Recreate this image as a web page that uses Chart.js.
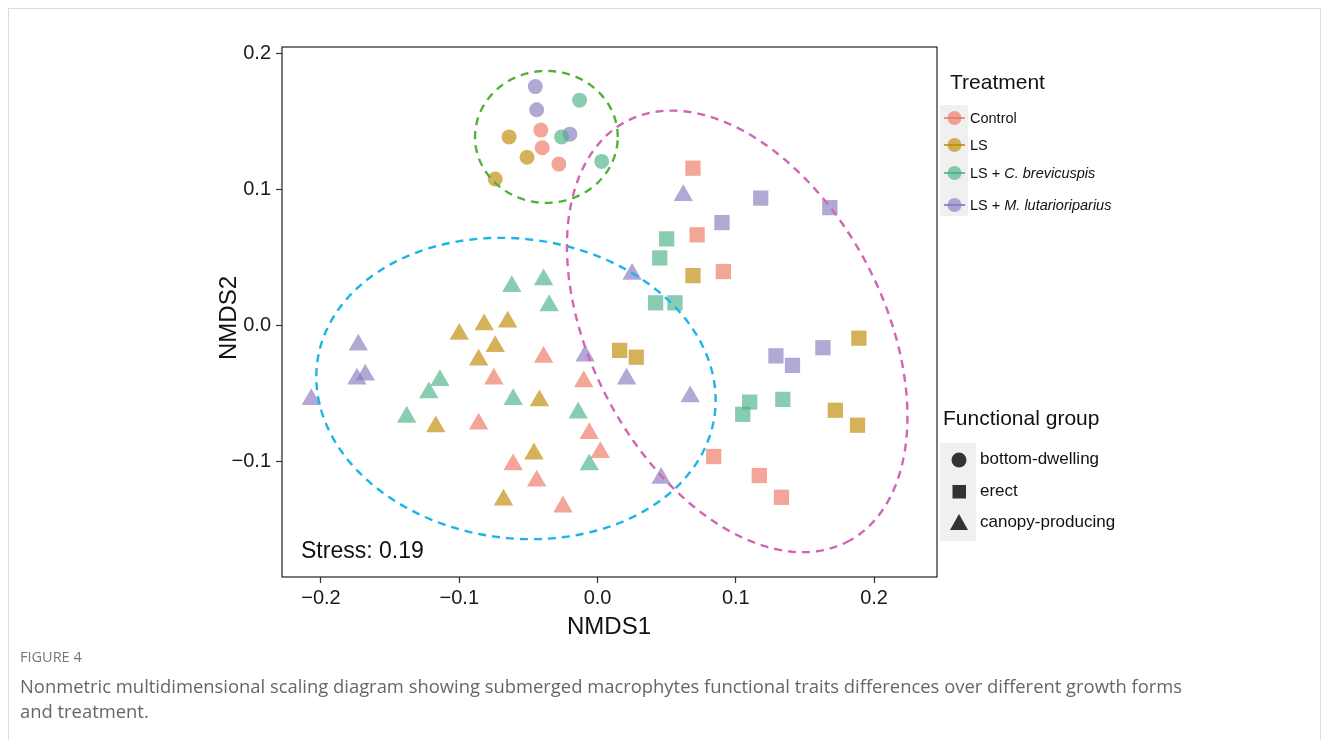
<!DOCTYPE html>
<html>
<head>
<meta charset="utf-8">
<script src="https://cdn.jsdelivr.net/npm/chart.js@4.4.1/dist/chart.umd.min.js"></script>
<style>
  body { margin: 0; background: #fff; width: 1328px; height: 740px; overflow: hidden; position: relative;
         font-family: "Liberation Sans", Arial, sans-serif; color: #111; }
  #frame { position: absolute; left: 8px; top: 8px; width: 1311px; height: 760px; border: 1px solid #dcdcdc; }
  #plot { position: absolute; left: 0; top: 0; }
  #keys { position: absolute; left: 0; top: 0; pointer-events: none; }
  .t { position: absolute; white-space: nowrap; }
  .cap { font-family: "Open Sans", sans-serif; color: #666; }
</style>
</head>
<body>
<div id="frame"></div>
<canvas id="plot" width="1328" height="740"></canvas>

<svg id="keys" width="1328" height="740">
  <rect x="940" y="105" width="28" height="111" fill="#f0f0f0"/>
  <line x1="944" y1="118" x2="965" y2="118" stroke="#ec7460" stroke-width="1.5"/>
  <circle cx="954.5" cy="118" r="7" fill="rgba(236,116,96,0.65)"/>
  <line x1="944" y1="145" x2="965" y2="145" stroke="#be8800" stroke-width="1.5"/>
  <circle cx="954.5" cy="145" r="7" fill="rgba(190,136,0,0.65)"/>
  <line x1="944" y1="173" x2="965" y2="173" stroke="#2fae80" stroke-width="1.5"/>
  <circle cx="954.5" cy="173" r="7" fill="rgba(73,178,135,0.65)"/>
  <line x1="944" y1="205" x2="965" y2="205" stroke="#7a6cc0" stroke-width="1.5"/>
  <circle cx="954.5" cy="205" r="7" fill="rgba(135,121,192,0.65)"/>

  <rect x="940" y="443" width="36" height="98" fill="#f0f0f0"/>
  <circle cx="959" cy="460" r="7.5" fill="#333"/>
  <rect x="952.5" y="485" width="13.5" height="13.5" fill="#333"/>
  <polygon points="959,514 950,530 968,530" fill="#333"/>
</svg>

<div class="t" style="left:567px;top:612px;font-size:24px;line-height:28px;">NMDS1</div>
<div class="t" style="left:194px;top:312px;width:68px;text-align:center;font-size:24px;line-height:28px;transform:rotate(-90deg);">NMDS2</div>
<div class="t" style="left:301px;top:536px;font-size:23px;line-height:28px;">Stress: 0.19</div>

<div class="t" style="left:950px;top:70px;font-size:21px;line-height:24px;">Treatment</div>
<div class="t" style="left:970px;top:109px;font-size:14.5px;line-height:18px;">Control</div>
<div class="t" style="left:970px;top:136px;font-size:14.5px;line-height:18px;">LS</div>
<div class="t" style="left:970px;top:164px;font-size:14.5px;line-height:18px;">LS + <i>C. brevicuspis</i></div>
<div class="t" style="left:970px;top:196px;font-size:14.5px;line-height:18px;">LS + <i>M. lutarioriparius</i></div>

<div class="t" style="left:943px;top:406px;font-size:21px;line-height:24px;">Functional group</div>
<div class="t" style="left:980px;top:449px;font-size:17px;line-height:20px;">bottom-dwelling</div>
<div class="t" style="left:980px;top:481px;font-size:17px;line-height:20px;">erect</div>
<div class="t" style="left:980px;top:512px;font-size:17px;line-height:20px;">canopy-producing</div>

<div class="t cap" style="left:20px;top:647px;font-size:14.5px;line-height:20px;color:#777;">FIGURE 4</div>
<div class="t cap" style="left:20px;top:673px;font-size:18.4px;line-height:25px;">Nonmetric multidimensional scaling diagram showing submerged macrophytes functional traits differences over different growth forms<br>and treatment.</div>

<script>
const xTicks = [-0.2, -0.1, 0, 0.1, 0.2];
const yTicks = [-0.1, 0, 0.1, 0.2];
const treatments = ['Control', 'LS', 'LS + C. brevicuspis', 'LS + M. lutarioriparius'];
const groups = ['bottom-dwelling', 'erect', 'canopy-producing'];

// NMDS scores [NMDS1, NMDS2]
const controlBottom = [[-0.041, 0.144], [-0.040, 0.131], [-0.028, 0.119]];
const lsBottom = [[-0.064, 0.139], [-0.051, 0.124], [-0.074, 0.108]];
const cbBottom = [[-0.013, 0.166], [-0.026, 0.139], [0.003, 0.121]];
const mlBottom = [[-0.045, 0.176], [-0.044, 0.159], [-0.020, 0.141]];

const controlErect = [[0.069, 0.116], [0.072, 0.067], [0.091, 0.040], [0.084, -0.096], [0.117, -0.110], [0.133, -0.126]];
const lsErect = [[0.069, 0.037], [0.016, -0.018], [0.028, -0.023], [0.189, -0.009], [0.172, -0.062], [0.188, -0.073]];
const cbErect = [[0.050, 0.064], [0.045, 0.050], [0.042, 0.017], [0.056, 0.017], [0.110, -0.056], [0.105, -0.065], [0.134, -0.054]];
const mlErect = [[0.118, 0.094], [0.168, 0.087], [0.090, 0.076], [0.129, -0.022], [0.141, -0.029], [0.163, -0.016]];

const controlCanopy = [[-0.039, -0.023], [-0.075, -0.039], [-0.010, -0.041], [-0.086, -0.072], [-0.006, -0.079],
                       [0.002, -0.093], [-0.061, -0.102], [-0.044, -0.114], [-0.025, -0.133]];
const lsCanopy = [[-0.100, -0.006], [-0.082, 0.001], [-0.065, 0.003], [-0.074, -0.015], [-0.086, -0.025],
                  [-0.042, -0.055], [-0.117, -0.074], [-0.046, -0.094], [-0.068, -0.128]];
const cbCanopy = [[-0.062, 0.029], [-0.039, 0.034], [-0.035, 0.015], [-0.114, -0.040], [-0.122, -0.049],
                  [-0.061, -0.054], [-0.138, -0.067], [-0.014, -0.064], [-0.006, -0.102]];
const mlCanopy = [[0.062, 0.096], [0.025, 0.038], [-0.009, -0.022], [0.021, -0.039], [0.067, -0.052],
                  [0.046, -0.112], [-0.173, -0.014], [-0.168, -0.036], [-0.174, -0.039], [-0.207, -0.054]];

// 95% ellipses per functional group: centre, semi axes, rotation (deg)
const ellipseCentres = [[-0.037, 0.139], [-0.059, -0.046], [0.101, -0.004]];
const ellipseAxes = [[0.0516, 0.0485], [0.145, 0.110], [0.174, 0.106]];
const ellipseAngles = [0, -8, -63];

const colours = ['rgba(236,116,96,0.65)', 'rgba(190,136,0,0.65)', 'rgba(73,178,135,0.65)', 'rgba(135,121,192,0.65)'];
const ellipseColours = ['#4fb33a', '#1cb4e8', '#d165b4'];
const shapes = ['circle', 'rect', 'triangle'];
const radii = [7.5, 10.8, 11.2];
const font = '"Liberation Sans", Arial, sans-serif';

const series = [
  [controlBottom, controlErect, controlCanopy],
  [lsBottom, lsErect, lsCanopy],
  [cbBottom, cbErect, cbCanopy],
  [mlBottom, mlErect, mlCanopy]
];

let datasets = [];
series.forEach((sets, t) => {
  sets.forEach((pts, g) => {
    datasets.push({
      label: treatments[t] + ' / ' + groups[g],
      data: pts.map(p => ({x: p[0], y: p[1]})),
      pointStyle: shapes[g],
      pointRadius: radii[g],
      backgroundColor: colours[t],
      borderWidth: 0,
      showLine: false
    });
  });
});

function fmt(v) {
  return (+v).toFixed(1).replace('-', '\u2212');
}

const extras = {
  id: 'extras',
  afterDatasetsDraw(chart) {
    const {ctx, chartArea: a, scales: {x, y}} = chart;
    ctx.save();
    ellipseCentres.forEach((c, i) => {
      const ra = ellipseAxes[i][0], rb = ellipseAxes[i][1];
      const th = ellipseAngles[i] * Math.PI / 180;
      ctx.beginPath();
      for (let k = 0; k <= 240; k++) {
        const s = k / 240 * 2 * Math.PI;
        const dx = ra * Math.cos(s) * Math.cos(th) - rb * Math.sin(s) * Math.sin(th);
        const dy = ra * Math.cos(s) * Math.sin(th) + rb * Math.sin(s) * Math.cos(th);
        const px = x.getPixelForValue(c[0] + dx);
        const py = y.getPixelForValue(c[1] + dy);
        if (k === 0) ctx.moveTo(px, py); else ctx.lineTo(px, py);
      }
      ctx.strokeStyle = ellipseColours[i];
      ctx.lineWidth = 2.4;
      ctx.setLineDash([8, 6]);
      ctx.stroke();
    });
    ctx.setLineDash([]);
    ctx.strokeStyle = '#222';
    ctx.lineWidth = 1.2;
    ctx.strokeRect(a.left, a.top, a.right - a.left, a.bottom - a.top);
    ctx.restore();
  }
};

new Chart(document.getElementById('plot'), {
  type: 'scatter',
  data: {datasets: datasets},
  options: {
    responsive: false,
    animation: false,
    events: [],
    layout: {padding: {left: 222, right: 391, top: 47, bottom: 123}},
    plugins: {legend: {display: false}, tooltip: {enabled: false}},
    scales: {
      x: {
        type: 'linear', min: -0.2282, max: 0.2455,
        afterBuildTicks: s => { s.ticks = xTicks.map(v => ({value: v})); },
        afterFit: s => { s.height = 40; },
        border: {display: false},
        grid: {drawOnChartArea: false, tickLength: 6, tickColor: '#333', tickWidth: 1.2},
        ticks: {autoSkip: false, maxRotation: 0, padding: 3, color: '#1a1a1a',
                font: {family: font, size: 20}, callback: v => fmt(v)}
      },
      y: {
        type: 'linear', min: -0.1846, max: 0.2051,
        afterBuildTicks: s => { s.ticks = yTicks.map(v => ({value: v})); },
        afterFit: s => { s.width = 60; },
        border: {display: false},
        grid: {drawOnChartArea: false, tickLength: 6, tickColor: '#333', tickWidth: 1.2},
        ticks: {autoSkip: false, padding: 5, color: '#1a1a1a',
                font: {family: font, size: 20}, callback: v => fmt(v)}
      }
    }
  },
  plugins: [extras]
});
</script>
</body>
</html>
